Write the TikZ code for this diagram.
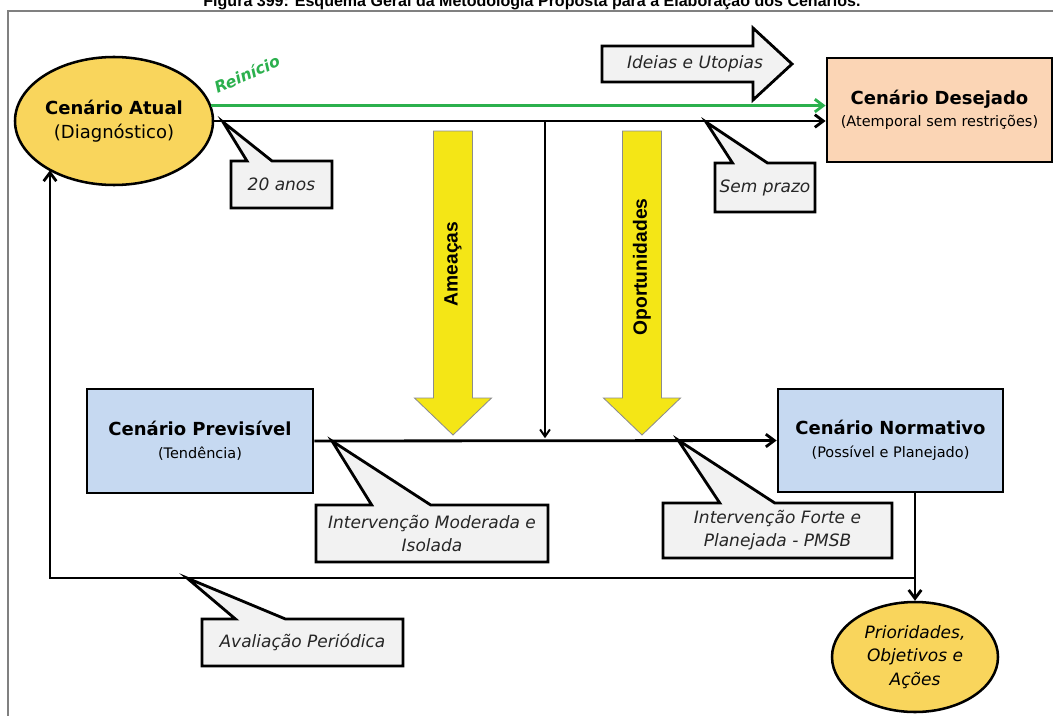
\documentclass[tikz,border=0pt]{standalone}
\usepackage{fontspec}
\setmainfont{DejaVu Sans}
\newfontfamily\titlefont{Liberation Sans}
\usepackage{tikz}
\usetikzlibrary{calc,arrows.meta,positioning,shapes.geometric,shapes.callouts}
\newcommand{\pxu}{0.025cm}
\definecolor{atualfill}{HTML}{F9D55C}
\definecolor{desejfill}{HTML}{FBD5B5}
\definecolor{cenfill}{HTML}{C6D9F1}
\definecolor{amarelo}{HTML}{F4E616}
\definecolor{callfill}{HTML}{F2F2F2}
\definecolor{verde}{HTML}{2BB04D}

\begin{document}
\begin{tikzpicture}[x=\pxu, y=-\pxu,
    cenbox/.style={draw, line width=2pt, rectangle, inner sep=0pt, align=center, font=\fontsize{12.8}{16}\selectfont},
    elipse/.style={draw, line width=1.8pt, ellipse, fill=atualfill, inner sep=0pt, align=center},
    balao/.style={draw, line width=2pt, rectangle callout, fill=callfill, inner sep=2pt, align=center, font=\fontsize{12.1}{16.5}\selectfont\itshape, text=black!85},
    seta/.style={line width=2pt, -{Straight Barb[length=6pt,width=9pt]}},
    setafina/.style={line width=1.4pt, -{Straight Barb[length=5pt,width=7pt]}},
    setaamarela/.style={draw=black!45, line width=0.6pt, fill=amarelo},
    sub/.style={font=\fontsize{10.3}{13}\selectfont}
  ]
  \useasboundingbox (0,0) rectangle (1053,716);

  \node[font=\titlefont\bfseries\fontsize{11.4}{13}\selectfont, anchor=base] (titulo) at (532,7) {Figura 399: Esquema Geral da Metodologia Proposta para a Elaboração dos Cenários.};
  \draw[draw=black!50, line width=0.9pt] (8,730) -- (8,11) -- (1070,11);

  \node[elipse, minimum width=198*\pxu, minimum height=128*\pxu, font=\fontsize{12.8}{17}\selectfont] (atual) at (114,121) {{\bfseries Cenário Atual}\\(Diagnóstico)};
  \node[cenbox, fill=desejfill, minimum width=225*\pxu, minimum height=104*\pxu] (desejado) at (939.5,110) {{\bfseries Cenário Desejado}\\{\fontsize{10.3}{13}\selectfont(Atemporal sem restrições)}};
  \node[cenbox, fill=cenfill, minimum width=226*\pxu, minimum height=104*\pxu] (previsivel) at (200,441) {{\bfseries Cenário Previsível}\\{\fontsize{10.3}{13}\selectfont(Tendência)}};
  \node[cenbox, fill=cenfill, minimum width=225*\pxu, minimum height=103*\pxu] (normativo) at (890.5,440.5) {{\bfseries Cenário Normativo}\\{\fontsize{10.3}{13}\selectfont(Possível e Planejado)}};
  \node[elipse, minimum width=166*\pxu, minimum height=110*\pxu, font=\fontsize{12.1}{16.7}\selectfont\itshape] (prior) at (915,657) {Prioridades,\\Objetivos e\\Ações};

  \draw[line width=2pt, fill=callfill] (602,46) -- (753,46) -- (753,28) -- (792,64) -- (753,100) -- (753,82) -- (602,82) -- cycle;
  \node[font=\fontsize{12.1}{14}\selectfont\itshape, text=black!85] (ideias) at (695,64) {Ideias e Utopias};

  \foreach \xc/\yt/\rotulo/\nome in {453/264/Ameaças/ameacas, 642/267/Oportunidades/oport}{
    \draw[setaamarela] (\xc-19.5,131) -- (\xc+19.5,131) -- (\xc+19.5,398) -- (\xc+38.5,398) -- (\xc,435) -- (\xc-38.5,398) -- (\xc-19.5,398) -- cycle;
    \node[rotate=90, font=\titlefont\bfseries\fontsize{13.7}{16}\selectfont] (\nome) at (\xc,\yt) {\rotulo};
  }

  \node[rotate=24, text=verde, font=\fontsize{11.2}{13}\selectfont\bfseries\itshape] (reinicio) at (247,74) {Reinício};

  \draw[seta, draw=verde] (atual.9.5) -- (atual.9.5 -| desejado.west);
  \draw[seta] (atual.east) -- (atual.east -| desejado.west);
  \coordinate (desce) at (545,121);
  \coordinate (chega) at (545,441);
  \draw[setafina, shorten >=2pt] (desce) -- (chega);
  \draw[seta] (previsivel.east) -- (normativo.west);
  \draw[seta] (prior.north |- normativo.south) -- (prior.north);
  \coordinate (canto) at (50,578);
  \draw[seta] (prior.north |- canto) -- (canto) -- (canto |- atual.217);

  \node[balao, minimum width=101*\pxu, minimum height=47*\pxu, callout absolute pointer={(223,122)}, callout pointer width=0.625cm] (vinte) at (281.5,184.5) {20 anos};
  \node[balao, minimum width=100*\pxu, minimum height=49*\pxu, callout absolute pointer={(706,122)}, callout pointer width=0.875cm] (semprazo) at (765,187.5) {Sem prazo};
  \node[balao, minimum width=232*\pxu, minimum height=57*\pxu, callout absolute pointer={(332,441)}, callout pointer width=1.475cm] (moderada) at (432,533.5) {Intervenção Moderada e\\Isolada};
  \node[balao, minimum width=229*\pxu, minimum height=55*\pxu, callout absolute pointer={(678,440)}, callout pointer width=1.375cm] (forte) at (777.5,530.5) {Intervenção Forte e\\Planejada - PMSB};
  \node[balao, minimum width=201*\pxu, minimum height=47*\pxu, callout absolute pointer={(187,578)}, callout pointer width=1.25cm] (avaliacao) at (302.5,642.5) {Avaliação Periódica};
\end{tikzpicture}
\end{document}
